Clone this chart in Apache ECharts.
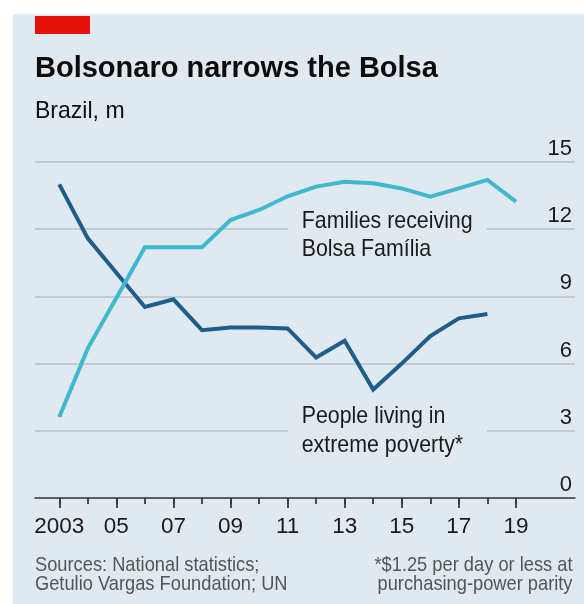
<!DOCTYPE html>
<html><head><meta charset="utf-8">
<script src="https://cdn.jsdelivr.net/npm/echarts@6/dist/echarts.min.js"></script>
<style>html,body{margin:0;padding:0;background:#fff}#c{width:584px;height:604px}</style>
</head><body><div id="c"></div>
<script>
// ---- data ----
const years = [2003,2004,2005,2006,2007,2008,2009,2010,2011,2012,2013,2014,2015,2016,2017,2018,2019];
const familiesBolsa = [3.62,6.68,8.93,11.19,11.19,11.19,12.41,12.86,13.47,13.9,14.12,14.05,13.82,13.45,13.82,14.2,13.23];
const extremePoverty = [14.0,11.59,10.06,8.53,8.87,7.49,7.61,7.61,7.57,6.27,7.02,4.84,6.0,7.23,8.02,8.21,null];
const xLabelYears = [2003,2005,2007,2009,2011,2013,2015,2017,2019];
const xLabelTexts = ['2003','05','07','09','11','13','15','17','19'];
const yMin = 0, yMax = 15, yStep = 3;

const SANS = '"Liberation Sans",Arial,sans-serif';
const PANEL = '#e0e9f0';
const INK = '#1a1a1a';
const AXIS = '#3a3a3a';
const FOOT = '#555555';

const chart = echarts.init(document.getElementById('c'), null, {renderer:'canvas'});
const gridBox = {left:35, right:9, top:162, bottom:106};
const xMin = 2002.15, xMax = 2021.07;

const option = {
  backgroundColor: '#ffffff',
  animation: false,
  grid: [Object.assign({}, gridBox), Object.assign({}, gridBox)],
  xAxis: [{
    type:'value', gridIndex:0, min:xMin, max:xMax,
    axisLine:{show:true, lineStyle:{color:AXIS, width:1.6}},
    axisTick:{show:true, customValues:years, length:6, lineStyle:{color:AXIS, width:1.8}},
    axisLabel:{customValues:xLabelYears, margin:17, fontSize:22.5, fontFamily:SANS, color:INK,
      formatter:v => { const i = xLabelYears.indexOf(Math.round(v)); return i >= 0 ? xLabelTexts[i] : ''; }},
    splitLine:{show:false}
  },{
    type:'value', gridIndex:1, min:xMin, max:xMax,
    axisLine:{show:false},
    axisTick:{show:true, customValues:xLabelYears, length:10, lineStyle:{color:AXIS, width:1.8}},
    axisLabel:{show:false}, splitLine:{show:false}
  }],
  yAxis: [{
    type:'value', gridIndex:0, position:'right', min:yMin, max:yMax, interval:yStep,
    axisLine:{show:false}, axisTick:{show:false},
    splitLine:{show:true, lineStyle:{color:'#b7c0c8', width:1.5}},
    axisLabel:{inside:true, margin:3, verticalAlign:'bottom', padding:[0,0,2,0], fontSize:22, fontFamily:SANS, color:INK}
  },{
    type:'value', gridIndex:1, min:yMin, max:yMax, show:false
  }],
  series: [{
    name:'People living in extreme poverty', type:'line', xAxisIndex:0, yAxisIndex:0,
    data: years.map((y,i)=>[y, extremePoverty[i]]),
    showSymbol:false, symbol:'none', connectNulls:false, z:3,
    lineStyle:{color:'#1d5e8c', width:4, join:'miter'}
  },{
    name:'Families receiving Bolsa Família', type:'line', xAxisIndex:0, yAxisIndex:0,
    data: years.map((y,i)=>[y, familiesBolsa[i]]),
    showSymbol:false, symbol:'none', z:4,
    lineStyle:{color:'#3fb9d0', width:4, join:'miter'}
  }]
};
chart.setOption(option);

const y12 = chart.convertToPixel({gridIndex:0}, [2010, 12])[1];
const y3 = chart.convertToPixel({gridIndex:0}, [2010, 3])[1];

function txt(x, y, text, font, fill, sx, align) {
  return {type:'text', z:10, x:x, y:y, scaleX:sx||1, originX:0, originY:0, silent:true,
    style:{x:0, y:0, text:text, font:font, fill:fill, textAlign:align||'left', textVerticalAlign:'top'}};
}

chart.setOption({
  graphic: [
    {type:'rect', z:-100, silent:true, shape:{x:13, y:14, width:571, height:590}, style:{fill:PANEL}},
    {type:'rect', z:-99, silent:true, shape:{x:35, y:16, width:55, height:18}, style:{fill:'#e3120b'}},
    {type:'rect', z:1, silent:true, shape:{x:288, y:y12-3, width:199, height:6}, style:{fill:PANEL}},
    {type:'rect', z:1, silent:true, shape:{x:288, y:y3-3, width:199, height:6}, style:{fill:PANEL}},
    txt(35, 54.8, 'Bolsonaro narrows the Bolsa', 'bold 29px '+SANS, '#0d0d0d'),
    txt(35, 99.7, 'Brazil, m', '24px '+SANS, '#0d0d0d', 0.96),
    txt(301.7, 209, 'Families receiving', '24px '+SANS, INK, 0.89),
    txt(301.7, 237, 'Bolsa Família', '24px '+SANS, INK, 0.89),
    txt(301.7, 404.7, 'People living in', '24px '+SANS, INK, 0.89),
    txt(301.7, 433, 'extreme poverty*', '24px '+SANS, INK, 0.89),
    txt(35, 555, 'Sources: National statistics;', '21px '+SANS, FOOT, 0.87),
    txt(35, 573.7, 'Getulio Vargas Foundation; UN', '21px '+SANS, FOOT, 0.87),
    txt(572.5, 555, '*$1.25 per day or less at', '21px '+SANS, FOOT, 0.87, 'right'),
    txt(572.5, 573.7, 'purchasing-power parity', '21px '+SANS, FOOT, 0.87, 'right')
  ]
});
</script></body></html>
